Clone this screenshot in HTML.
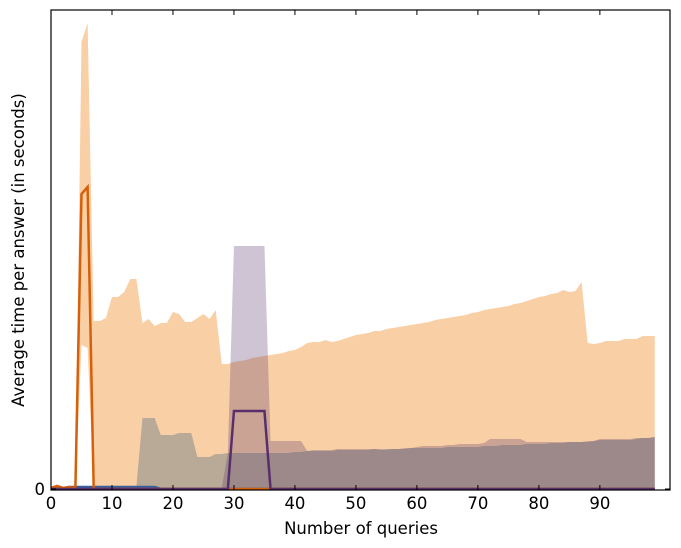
<!DOCTYPE html>
<html><head><meta charset="utf-8"><style>
body{margin:0;background:#fff;}
svg{display:block;font-family:"DejaVu Sans","Liberation Sans",sans-serif;}
</style></head><body>
<svg id="chart" width="681" height="548" viewBox="0 0 681 548">
<g id="marks"></g>
<rect x="51" y="10" width="619" height="480" fill="none" stroke="#000" stroke-width="1.2"/>
<g id="axes"></g>
<text x="361" y="534" font-size="16.5" text-anchor="middle">Number of queries</text>
<text x="0" y="0" font-size="16.5" text-anchor="middle" transform="translate(24,250) rotate(-90)">Average time per answer (in seconds)</text>
</svg>
<script>
const xTicks=[0,10,20,30,40,50,60,70,80,90];
const orangeUpper=[0.02,0.03,0.02,0.03,0.03,4.47,4.66,1.68,1.68,1.71,1.92,1.92,1.97,2.10,2.10,1.66,1.70,1.63,1.66,1.66,1.77,1.75,1.67,1.67,1.71,1.75,1.70,1.79,1.25,1.25,1.27,1.28,1.29,1.31,1.32,1.33,1.34,1.35,1.36,1.38,1.39,1.42,1.46,1.47,1.47,1.49,1.47,1.48,1.50,1.52,1.54,1.55,1.56,1.58,1.58,1.60,1.61,1.62,1.63,1.64,1.65,1.66,1.67,1.69,1.70,1.71,1.72,1.73,1.74,1.76,1.77,1.79,1.80,1.81,1.82,1.83,1.85,1.86,1.88,1.90,1.92,1.93,1.95,1.96,1.99,1.97,1.98,2.07,1.46,1.45,1.46,1.48,1.48,1.48,1.50,1.50,1.50,1.53,1.53,1.53];
const orangeLower=[0,0,0,0,0,1.44,1.41,0,0,0,0,0,0,0,0,0,0,0,0,0,0,0,0,0,0,0,0,0,0,0,0,0,0,0,0,0,0,0,0,0,0,0,0,0,0,0,0,0,0,0,0,0,0,0,0,0,0,0,0,0,0,0,0,0,0,0,0,0,0,0,0,0,0,0,0,0,0,0,0,0,0,0,0,0,0,0,0,0,0,0,0,0,0,0,0,0,0,0,0,0];
const grayUpper=[0.02,0.02,0.02,0.02,0.02,0.02,0.02,0.02,0.02,0.02,0.02,0.02,0.02,0.02,0.02,0.71,0.71,0.71,0.54,0.54,0.54,0.56,0.56,0.56,0.32,0.32,0.32,0.35,0.35,0.36,0.36,0.36,0.36,0.36,0.36,0.36,0.36,0.36,0.36,0.36,0.37,0.37,0.38,0.38,0.38,0.38,0.38,0.39,0.39,0.39,0.39,0.39,0.39,0.40,0.40,0.40,0.40,0.40,0.40,0.41,0.41,0.41,0.41,0.41,0.41,0.42,0.42,0.42,0.42,0.42,0.42,0.43,0.43,0.43,0.44,0.44,0.44,0.44,0.45,0.45,0.45,0.45,0.46,0.46,0.46,0.47,0.47,0.47,0.47,0.48,0.49,0.49,0.49,0.49,0.49,0.49,0.50,0.51,0.51,0.52];
const purpleUpper=[0.01,0.01,0.01,0.01,0.01,0.01,0.01,0.01,0.01,0.01,0.01,0.01,0.01,0.01,0.01,0.01,0.01,0.01,0.01,0.01,0.01,0.01,0.01,0.01,0.01,0.01,0.01,0.01,0.01,0.36,2.43,2.43,2.43,2.43,2.43,2.43,0.48,0.48,0.48,0.48,0.48,0.48,0.38,0.39,0.39,0.39,0.39,0.40,0.40,0.40,0.40,0.40,0.40,0.40,0.39,0.39,0.40,0.40,0.41,0.41,0.42,0.43,0.43,0.43,0.43,0.44,0.44,0.45,0.45,0.45,0.45,0.46,0.50,0.50,0.50,0.50,0.50,0.50,0.47,0.47,0.47,0.47,0.47,0.47,0.47,0.47,0.47,0.47,0.48,0.48,0.50,0.50,0.50,0.50,0.50,0.50,0.51,0.51,0.51,0.52];
const orangeLine=[0.01,0.03,0.01,0.02,0.01,2.95,3.02,0,0,0,0,0,0,0,0,0,0,0,0,0,0,0,0,0,0,0,0,0,0,0,0,0,0,0,0,0,0,0,0,0,0,0,0,0,0,0,0,0,0,0,0,0,0,0,0,0,0,0,0,0,0,0,0,0,0,0,0,0,0,0,0,0,0,0,0,0,0,0,0,0,0,0,0,0,0,0,0,0,0,0,0,0,0,0,0,0,0,0,0,0];
const purpleLine=[0,0,0,0,0,0,0,0,0,0,0,0,0,0,0,0,0,0,0,0,0,0,0,0,0,0,0,0,0,0,0.78,0.78,0.78,0.78,0.78,0.78,0,0,0,0,0,0,0,0,0,0,0,0,0,0,0,0,0,0,0,0,0,0,0,0,0,0,0,0,0,0,0,0,0,0,0,0,0,0,0,0,0,0,0,0,0,0,0,0,0,0,0,0,0,0,0,0,0,0,0,0,0,0,0,0];
const blueLine=[0,0,0.01,0.02,0.02,0.02,0.02,0.02,0.02,0.02,0.02,0.02,0.02,0.02,0.02,0.02,0.02,0.02,0,0,0,0,0,0,0,0,0,0,0,0,0,0,0,0,0,0,0,0,0,0,0,0,0,0,0,0,0,0,0,0,0,0,0,0,0,0,0,0,0,0,0,0,0,0,0,0,0,0,0,0,0,0,0,0,0,0,0,0,0,0,0,0,0,0,0,0,0,0,0,0,0,0,0,0,0,0,0,0,0,0];

const X0=51,X1=670,Y0=489,YT=10,XMAX=101.5,YMAX=4.79;
const xs=v=>X0+(X1-X0)*v/XMAX;
const ys=v=>Y0-(Y0-YT)*v/YMAX;
const NS="http://www.w3.org/2000/svg";
const marks=document.getElementById('marks');
const axes=document.getElementById('axes');
function band(up,lo,fill,name){
  let d='M';
  for(let i=0;i<up.length;i++) d+=(i?'L':'')+xs(i).toFixed(2)+','+ys(up[i]).toFixed(2);
  for(let i=up.length-1;i>=0;i--) d+='L'+xs(i).toFixed(2)+','+ys(lo?lo[i]:0).toFixed(2);
  const p=document.createElementNS(NS,'path');
  p.setAttribute('d',d+'Z');p.setAttribute('fill',fill);
  
  
  marks.appendChild(p);
}
function line(vals,color,name){
  const p=document.createElementNS(NS,'polyline');
  p.setAttribute('points',vals.map((v,i)=>xs(i).toFixed(2)+','+ys(v).toFixed(2)).join(' '));
  p.setAttribute('fill','none');p.setAttribute('stroke',color);p.setAttribute('stroke-width','2.5');
  
  
  marks.appendChild(p);
}
band(orangeUpper,orangeLower,'#f9d0a6','orange-band');
band(grayUpper,null,'rgba(90,110,130,0.4)','gray-band');
band(purpleUpper,null,'rgba(92,60,110,0.3)','purple-band');
line(blueLine,'#3a5f9e','blue-line');
line(orangeLine,'#d65f0a','orange-line');
line(purpleLine,'#582f6a','purple-line');
xTicks.forEach(t=>{
  const x=xs(t);
  const g=document.createElementNS(NS,'g');
  
  
  g.innerHTML=`<line x1="${x}" y1="490" x2="${x}" y2="485" stroke="#000"/><line x1="${x}" y1="10" x2="${x}" y2="15" stroke="#000"/><text x="${x}" y="509" font-size="16.5" text-anchor="middle">${t}</text>`;
  axes.appendChild(g);
});
const yg=document.createElementNS(NS,'g');


yg.innerHTML=`<line x1="51" y1="${ys(0)}" x2="56" y2="${ys(0)}" stroke="#000"/><line x1="670" y1="${ys(0)}" x2="665" y2="${ys(0)}" stroke="#000"/><text x="45" y="${ys(0)+6}" font-size="16.5" text-anchor="end">0</text>`;
axes.appendChild(yg);
</script>
</body></html>
